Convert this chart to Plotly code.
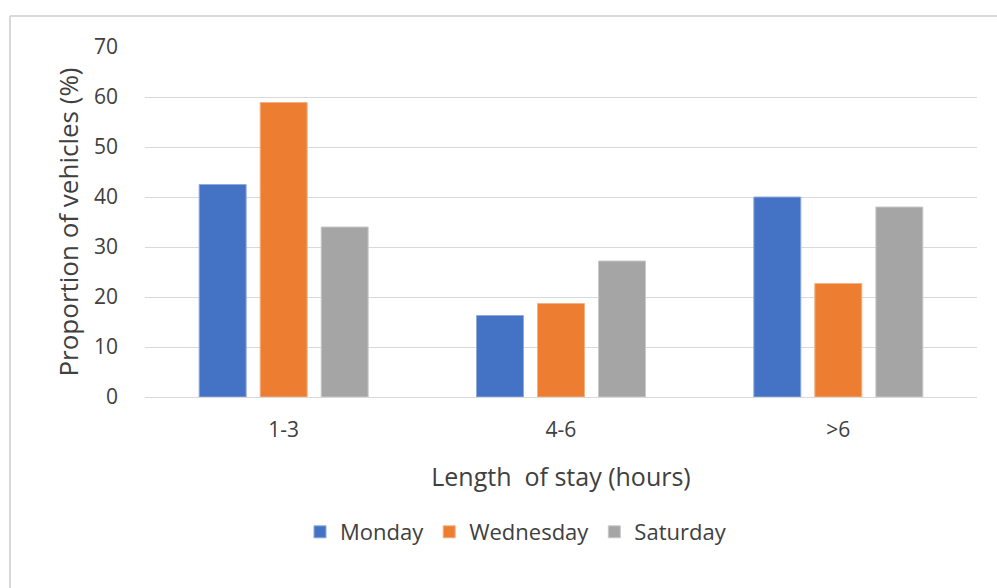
import plotly.graph_objects as go

# Share of vehicles by length of stay, per survey day
stay_lengths = ["1-3", "4-6", ">6"]
monday = [42.5, 16.3, 40.0]
wednesday = [58.9, 18.7, 22.7]
saturday = [34.0, 27.2, 38.0]
y_ticks = [0, 10, 20, 30, 40, 50, 60, 70]

series = [
    ("Monday", monday, "#4472C4", "#8FAADC"),
    ("Wednesday", wednesday, "#ED7D31", "#F4B183"),
    ("Saturday", saturday, "#A5A5A5", "#C9C9C9"),
]

FONT = "'Open Sans', sans-serif"
TEXT = "#404040"

fig = go.Figure()
for name, vals, col, edge in series:
    fig.add_trace(go.Bar(
        name=name, x=stay_lengths, y=vals,
        marker=dict(color=col, line=dict(color=edge, width=1)),
    ))

W, H = 997, 588
L, R, T, B = 145, 20, 47, 191
pw, ph = W - L - R, H - T - B

fig.update_layout(
    width=W, height=H,
    margin=dict(l=L, r=R, t=T, b=B, autoexpand=False),
    paper_bgcolor="white", plot_bgcolor="white",
    barmode="group", bargap=0.34, bargroupgap=0.23,
    font=dict(family=FONT, size=20, color=TEXT),
    legend=dict(
        orientation="h", x=(516 - L) / pw, xanchor="center",
        y=(H - B - 532) / ph, yanchor="middle",
        font=dict(size=22, color=TEXT), itemwidth=30,
        traceorder="normal",
    ),
    xaxis=dict(
        showline=True, linecolor="#D9D9D9", linewidth=1,
        showgrid=False, ticks="", ticklabelstandoff=14,
        title=dict(text="Length  of stay (hours)", standoff=26,
                   font=dict(size=25, color=TEXT)),
        tickfont=dict(size=21, color=TEXT),
    ),
    yaxis=dict(
        range=[0, 70], tickvals=y_ticks, showgrid=True,
        gridcolor="#D9D9D9", gridwidth=1, zeroline=False,
        showline=False, ticks="", ticklabelstandoff=26,
        title=dict(text="Proportion of vehicles (%)", standoff=7,
                   font=dict(size=26, color=TEXT)),
        tickfont=dict(size=21, color=TEXT),
    ),
    shapes=[
        dict(type="line", xref="paper", yref="paper",
             x0=(10 - L) / pw, x1=(10 - L) / pw,
             y0=(H - B - H - 5) / ph, y1=1 + (T - 16) / ph,
             line=dict(color="#D9D9D9", width=2)),
        dict(type="line", xref="paper", yref="paper",
             x0=(10 - L) / pw, x1=1 + (R + 5) / pw,
             y0=1 + (T - 16) / ph, y1=1 + (T - 16) / ph,
             line=dict(color="#D9D9D9", width=2)),
    ],
)

fig.write_html("out.html")
